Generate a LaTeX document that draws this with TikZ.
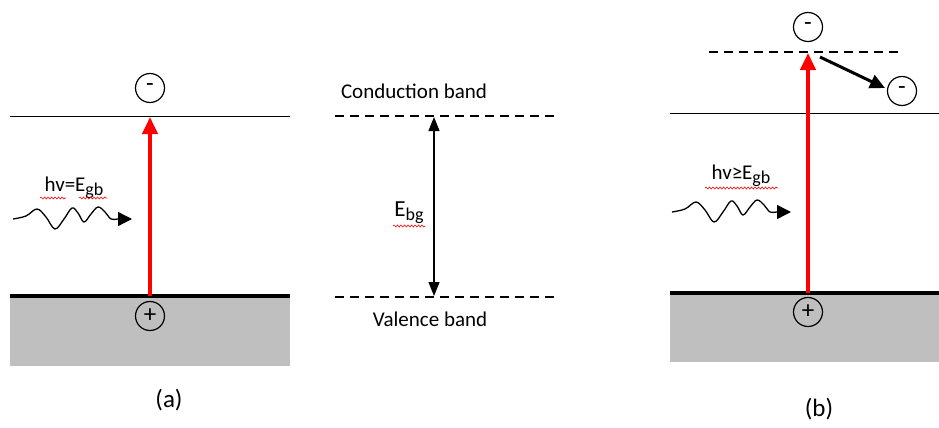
\documentclass[tikz,border=0pt]{standalone}
\usepackage{fontspec}
\setmainfont{Carlito}
\usetikzlibrary{arrows.meta,decorations.pathmorphing}
\definecolor{bandgray}{HTML}{BFBFBF}
\newcommand{\sub}[1]{{\fontsize{18}{18}\selectfont\raisebox{-4pt}{#1}}}
\begin{document}
\begin{tikzpicture}[x=1pt,y=-1pt,
  charge/.style={circle,draw,line width=1.2pt,minimum size=29pt,inner sep=0pt,font=\fontsize{25}{25}\selectfont},
  level/.style={line width=1pt},
  edgeline/.style={line width=4pt},
  dashlevel/.style={line width=1.6pt,dash pattern=on 9pt off 6pt},
  lbl/.style={font=\fontsize{21}{24}\selectfont,inner sep=0pt},
  caption/.style={font=\fontsize{25}{28}\selectfont,inner sep=0pt},
  excite/.style={red,line width=4pt,-{Triangle[length=17pt,width=15pt]}},
  photon/.style={line width=1.3pt,-{Triangle[length=14pt,width=14pt]}},
  gap/.style={line width=1.2pt,{Triangle[length=14pt,width=11pt]}-{Triangle[length=14pt,width=11pt]}},
  relax/.style={line width=3pt,-{Triangle[length=15pt,width=14pt]}},
  spell/.style={red,line width=0.6pt,decorate,decoration={snake,amplitude=1pt,segment length=3.5pt}},
  photonwave/.pic={
    \draw[photon] plot[smooth,tension=0.6] coordinates {(13,219) (26,216) (37,209) (46,217) (55,229) (64,219) (72,208) (78,213) (84,222) (91,214) (98,207) (105,212) (111,219) (118,219) (132,219)};
  }
]
\useasboundingbox (0,0) rectangle (939,428);

% ---- panel (a): excitation with hv = E_gb ----
\fill[bandgray] (10,297) rectangle (290,366);
\draw[edgeline] (10,296) -- (290,296);
\draw[level] (10,116) -- (290,116);
\node[charge] (ea) at (150,88) {-};
\node[charge] (ha) at (150,316) {+};
\coordinate (va) at (150,296);
\coordinate (ca) at (150,117);
\draw[excite] (va) -- (ca);
\node[lbl] (pa) at (74,188) {hv=E\sub{gb}};
\draw[spell] (40,198) -- (66,198);
\draw[spell] (79,198) -- (107,198);
\pic {photonwave};
\node[caption] (la) at (169,400) {(a)};

% ---- middle: band gap ----
\node[lbl] (cb) at (414,91) {Conduction band};
\node[lbl] (vb) at (430,319) {Valence band};
\draw[dashlevel] (335,116) -- (556,116);
\draw[dashlevel] (335,297) -- (556,297);
\coordinate (gt) at (434,117);
\coordinate (gb) at (434,296);
\draw[gap] (gb) -- (gt);
\node[font=\fontsize{23}{24}\selectfont,inner sep=0pt] (eg) at (409,213) {E\sub{bg}};
\draw[spell] (393,226) -- (425,226);

% ---- panel (b): excitation with hv >= E_gb ----
\fill[bandgray] (670,295) rectangle (939,362);
\draw[edgeline] (670,293) -- (939,293);
\draw[level] (670,113) -- (939,113);
\draw[dashlevel] (709,52) -- (902,52);
\node[charge] (eb) at (808,27) {-};
\node[charge] (er) at (902,91) {-};
\node[charge] (hb) at (808,312) {+};
\coordinate (vbb) at (808,293);
\coordinate (cbb) at (808,53);
\draw[excite] (vbb) -- (cbb);
\coordinate (rs) at (820,57);
\coordinate (re) at (885,88);
\draw[relax] (rs) -- (re);
\node[lbl] (pb) at (741,176) {hv≥E\sub{gb}};
\draw[spell] (705,188) -- (778,188);
\pic[shift={(659,-7)}] {photonwave};
\node[caption] (lb) at (819,409) {(b)};
\end{tikzpicture}
\end{document}
